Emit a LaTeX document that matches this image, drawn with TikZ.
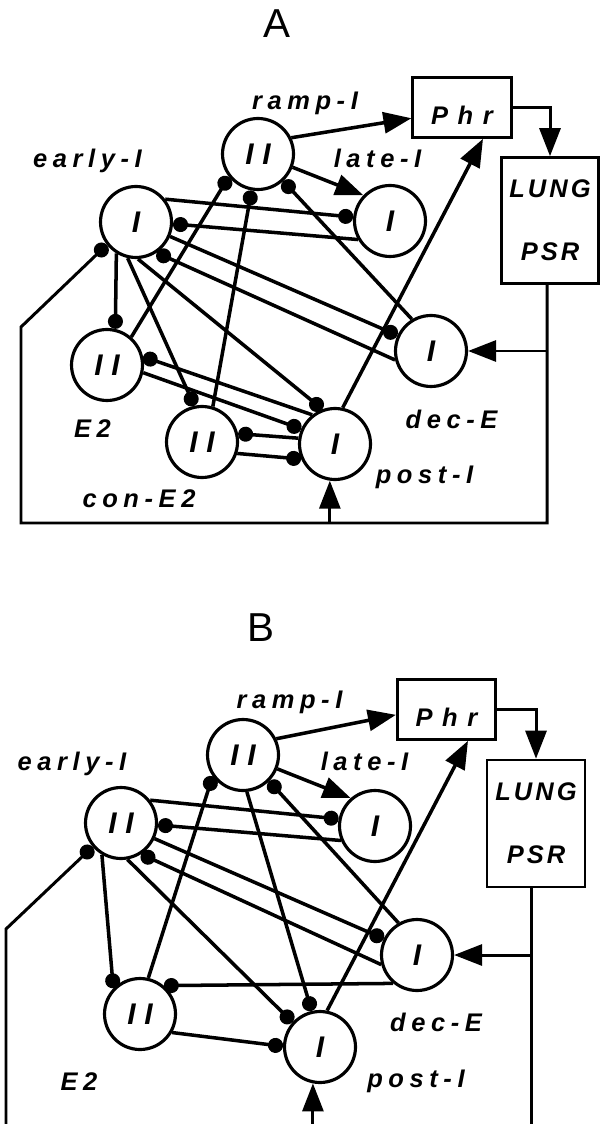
\documentclass[tikz,border=0pt]{standalone}
\usepackage{fontspec}
\setmainfont{Liberation Sans}
\newfontfamily\labfont[LetterSpace=22]{Liberation Sans}
\newfontfamily\boxfont[LetterSpace=12]{Liberation Sans}
\newfontfamily\phrfont[LetterSpace=38]{Liberation Sans}
\usetikzlibrary{arrows.meta,calc}
\tikzset{
  neuron/.style={circle, draw, line width=1.8pt, minimum size=1.42cm, inner sep=0pt,
    font=\fontsize{17}{17}\selectfont\bfseries\itshape},
  block/.style={rectangle, draw, line width=1.5pt, inner sep=0pt},
  phrbox/.style={block, minimum width=1.97cm, minimum height=1.2cm, text height=19pt, text depth=0pt,
    font=\fontsize{14.5}{15}\phrfont\bfseries\itshape},
  lungbox/.style={block, minimum width=1.94cm, minimum height=2.52cm, align=center,
    font=\fontsize{14.5}{36}\boxfont\bfseries\itshape},
  lab/.style={anchor=base, inner sep=0pt, font=\fontsize{14.5}{15}\labfont\bfseries\itshape},
  panel/.style={inner sep=0pt, font=\fontsize{23}{23}\selectfont},
  exc/.style={line width=2pt, -{Triangle[length=0.56cm,width=0.42cm]}},
  inh/.style={line width=2pt, -{Circle[length=0.3cm]}},
  fb/.style={line width=1.7pt},
  fbexc/.style={line width=1.7pt, -{Triangle[length=0.56cm,width=0.42cm]}},
  fbinh/.style={line width=1.7pt, -{Circle[length=0.3cm]}},
}
\begin{document}
\begin{tikzpicture}[x=0.02cm, y=-0.02cm]
\useasboundingbox (0,0) rectangle (599,1124);

% ================= Panel A =================
\node[panel] (tA) at (277,24) {A};
\node[neuron] (eA) at (136,222) {I};
\node[neuron] (rA) at (258,154) {I\kern5ptI};
\node[neuron] (lA) at (390,221) {I};
\node[neuron] (dA) at (431,351) {I};
\node[neuron] (pA) at (335,444) {I};
\node[neuron] (e2A) at (107,365) {I\kern5ptI};
\node[neuron] (cA) at (202,442) {I\kern5ptI};
\node[phrbox] (phA) at (462,107.5) {Phr};
\node[lungbox] (lungA) at (550,220.5) {LUNG\\PSR};

\node[lab] (leA) at (87.5,168) {early-I};
\node[lab] (lrA) at (305,110) {ramp-I};
\node[lab] (llA) at (377.5,168) {late-I};
\node[lab] (ldA) at (451.5,428) {dec-E};
\node[lab] (lpA) at (424.5,483) {post-I};
\node[lab] (lsA) at (92.5,438) {E2};
\node[lab] (lcA) at (139,507) {con-E2};

\draw[exc] (rA.26) -- (phA.-168);
\draw[exc] (rA.-21) -- (lA.136);
\draw[exc] (pA.78) -- ($(phA.south)+(21,0)$);
\draw[fbexc] (phA.east) -| (lungA.north);

\coordinate (fbA) at ($(lungA.south)+(-3,0)$);
\coordinate (bA) at (0,523);
\coordinate (cornA) at (21,523);
\coordinate (kneeA) at (21,327);
\draw[fbinh] (fbA) |- (cornA) -- (kneeA) -- (eA.-142);
\draw[fbexc] (fbA |- dA) -- (dA.east);
\draw[fbexc] (pA.-98 |- bA) -- (pA.-98);

\draw[inh] (eA.38) -- (lA.174);
\draw[inh] (lA.-150) -- (eA.-3);
\draw[inh] (eA.-23) -- (dA.155);
\draw[inh] (dA.-166) -- (eA.-56);
\draw[inh] (eA.-122) -- (e2A.77);
\draw[inh] (eA.-103) -- (cA.102);
\draw[inh] (eA.-87) -- (pA.110);
\draw[inh] (e2A.49) -- (rA.-142);
\draw[inh] (cA.73) -- (rA.-100);
\draw[inh] (dA.121) -- (rA.-47);
\draw[inh] (pA.128) -- (e2A.13);
\draw[inh] (e2A.-12) -- (pA.156);
\draw[inh] (pA.171) -- (cA.13);
\draw[inh] (cA.-18) -- (pA.-156);

% ================= Panel B =================
\node[panel] (tB) at (261,628) {B};
\node[neuron] (eB) at (121,823) {I\kern5ptI};
\node[neuron] (rB) at (243,755) {I\kern5ptI};
\node[neuron] (lB) at (375,826) {I};
\node[neuron] (dB) at (417,955) {I};
\node[neuron] (pB) at (320,1047) {I};
\node[neuron] (e2B) at (140,1014) {I\kern5ptI};
\node[phrbox] (phB) at (446.5,709.5) {Phr};
\node[lungbox, minimum width=1.96cm, minimum height=2.54cm] (lungB) at (536,823.5) {LUNG\\PSR};

\node[lab] (leB) at (72,770) {early-I};
\node[lab] (lrB) at (289.5,708) {ramp-I};
\node[lab] (llB) at (364.5,770) {late-I};
\node[lab] (ldB) at (436,1031) {dec-E};
\node[lab] (lpB) at (416,1087) {post-I};
\node[lab] (lsB) at (79,1090) {E2};

\draw[exc] (rB.26) -- (phB.-174);
\draw[exc] (rB.-22) -- (lB.131);
\draw[exc] (pB.79) -- ($(phB.south)+(21.5,0)$);
\draw[fbexc] (phB.east) -| (lungB.north);

\coordinate (fbB) at ($(lungB.south)+(-5,0)$);
\coordinate (bB) at (0,1124);
\coordinate (cornB) at (6,1124);
\coordinate (kneeB) at (6,929);
\draw[fb] (fbB) -- (fbB |- bB);
\draw[fbexc] (fbB |- dB) -- (dB.east);
\draw[fbexc] (pB.-101 |- bB) -- (pB.-101);
\draw[fbinh] (cornB) -- (kneeB) -- (eB.-140);

\draw[inh] (eB.38) -- (lB.169);
\draw[inh] (lB.-157) -- (eB.-3);
\draw[inh] (eB.-25) -- (dB.154);
\draw[inh] (dB.-165) -- (eB.-57);
\draw[inh] (eB.-121) -- (e2B.136);
\draw[inh] (eB.-80) -- (pB.138);
\draw[inh] (e2B.77) -- (rB.-145);
\draw[inh] (rB.-84) -- (pB.103);
\draw[inh] (dB.120) -- (rB.-45);
\draw[inh] (dB.-130) -- (e2B.50);
\draw[inh] (e2B.-30) -- (pB.179);
\end{tikzpicture}
\end{document}
